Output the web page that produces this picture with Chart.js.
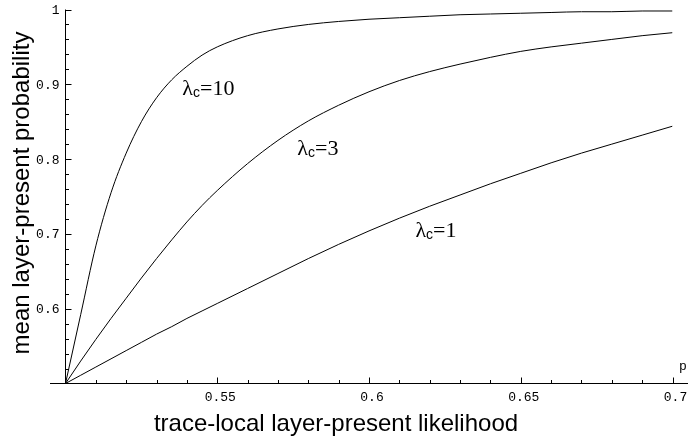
<!DOCTYPE html>
<html>
<head>
<meta charset="utf-8">
<script src="https://cdn.jsdelivr.net/npm/chart.js@4.4.1/dist/chart.umd.min.js"></script>
<style>
  html, body { margin: 0; padding: 0; background: #fff; }
  #plot { display: block; }
</style>
</head>
<body>
<canvas id="plot" width="690" height="448"></canvas>
<script>
/* ---------------- Data ---------------- */
const pValues = [0.5, 0.505, 0.51, 0.515, 0.52, 0.525, 0.53, 0.535, 0.54, 0.545, 0.55,
                 0.56, 0.57, 0.58, 0.59, 0.6, 0.61, 0.62, 0.63, 0.64, 0.65,
                 0.66, 0.67, 0.68, 0.69, 0.7];
const lambda10 = [0.5, 0.592, 0.684, 0.755, 0.808, 0.850, 0.882, 0.906, 0.924, 0.939, 0.950,
                  0.965, 0.974, 0.980, 0.984, 0.987, 0.989, 0.991, 0.993, 0.994, 0.995,
                  0.996, 0.997, 0.997, 0.998, 0.998];
const lambda3 = [0.5, 0.530, 0.559, 0.587, 0.614, 0.641, 0.667, 0.692, 0.716, 0.738, 0.758,
                 0.794, 0.825, 0.851, 0.872, 0.890, 0.905, 0.917, 0.927, 0.936, 0.944,
                 0.950, 0.955, 0.960, 0.965, 0.969];
const lambda1 = [0.5, 0.511, 0.522, 0.533, 0.544, 0.555, 0.566, 0.576, 0.587, 0.597, 0.607,
                 0.627, 0.647, 0.667, 0.686, 0.704, 0.721, 0.737, 0.752, 0.767, 0.781,
                 0.795, 0.808, 0.820, 0.832, 0.844];

const xMajorTicks = [0.55, 0.6, 0.65, 0.7];
const xTickLabels = ['0.55', '0.6', '0.65', '0.7'];
const xMinorTicks = [0.51, 0.52, 0.53, 0.54, 0.56, 0.57, 0.58, 0.59, 0.61, 0.62, 0.63, 0.64, 0.66, 0.67, 0.68, 0.69];
const yMajorTicks = [0.6, 0.7, 0.8, 0.9, 1];
const yTickLabels = ['0.6', '0.7', '0.8', '0.9', '1'];
const yMinorTicks = [0.52, 0.54, 0.56, 0.58, 0.62, 0.64, 0.66, 0.68, 0.72, 0.74, 0.76, 0.78,
                     0.82, 0.84, 0.86, 0.88, 0.92, 0.94, 0.96, 0.98];

const curveNames = ['10', '3', '1'];
const xTitle = 'trace-local layer-present likelihood';
const yTitle = 'mean layer-present probability';

// where each λc label sits (data coords: left edge, baseline)
const labelSpots = [
    { x: 0.5385, y: 0.886 },
    { x: 0.5764, y: 0.806 },
    { x: 0.6153, y: 0.696 }
];

/* ---------------- Axes drawn Mathematica-style ---------------- */
const axesPlugin = {
    id: 'mmaAxes',
    afterDraw(chart) {
        const ctx = chart.ctx;
        const xs = chart.scales.x, ys = chart.scales.y;
        const x0 = xs.getPixelForValue(0.5), y0 = ys.getPixelForValue(0.5);
        ctx.save();
        ctx.strokeStyle = '#000';
        ctx.fillStyle = '#000';
        ctx.lineWidth = 1;

        // axis lines
        ctx.beginPath();
        ctx.moveTo(50, y0); ctx.lineTo(688, y0);
        ctx.moveTo(x0, y0); ctx.lineTo(x0, ys.getPixelForValue(1));
        ctx.stroke();

        // ticks pointing into the plot
        ctx.beginPath();
        xMajorTicks.forEach(v => { const px = Math.round(xs.getPixelForValue(v)) + 0.5; ctx.moveTo(px, y0); ctx.lineTo(px, y0 - 6); });
        xMinorTicks.forEach(v => { const px = Math.round(xs.getPixelForValue(v)) + 0.5; ctx.moveTo(px, y0); ctx.lineTo(px, y0 - 3.5); });
        yMajorTicks.forEach(v => { const py = Math.round(ys.getPixelForValue(v)) + 0.5; ctx.moveTo(x0, py); ctx.lineTo(x0 + 6, py); });
        yMinorTicks.forEach(v => { const py = Math.round(ys.getPixelForValue(v)) + 0.5; ctx.moveTo(x0, py); ctx.lineTo(x0 + 3.5, py); });
        ctx.stroke();

        // tick labels
        ctx.font = '13px "Liberation Mono", "DejaVu Sans Mono", monospace';
        ctx.textAlign = 'center';
        ctx.textBaseline = 'middle';
        xMajorTicks.forEach((v, i) => ctx.fillText(xTickLabels[i], xs.getPixelForValue(v) + 3, y0 + 14));
        ctx.textAlign = 'right';
        yMajorTicks.forEach((v, i) => ctx.fillText(yTickLabels[i], x0 - 6, ys.getPixelForValue(v) + 1));
        ctx.textAlign = 'center';
        ctx.textBaseline = 'alphabetic';
        ctx.fillText('p', 683, y0 - 14);

        // axis titles
        ctx.font = '24px "Liberation Sans", Arial, sans-serif';
        ctx.textBaseline = 'middle';
        ctx.fillText(xTitle, 336, 424);
        ctx.save();
        ctx.translate(22, 193);
        ctx.rotate(-Math.PI / 2);
        ctx.fillText(yTitle, 0, 0);
        ctx.restore();

        // curve labels: λ + subscript c + "=n"
        ctx.textAlign = 'left';
        ctx.textBaseline = 'alphabetic';
        labelSpots.forEach((spot, i) => {
            let px = xs.getPixelForValue(spot.x);
            const py = ys.getPixelForValue(spot.y);
            ctx.font = '22px "Liberation Serif", "Times New Roman", serif';
            ctx.fillText('\u03bb', px, py);
            px += ctx.measureText('\u03bb').width;
            ctx.font = '14px "Liberation Sans", Arial, sans-serif';
            ctx.fillText('c', px, py + 2);
            px += ctx.measureText('c').width;
            ctx.font = '22px "Liberation Serif", "Times New Roman", serif';
            ctx.fillText('=' + curveNames[i], px, py);
        });
        ctx.restore();
    }
};

/* ---------------- Chart ---------------- */
const toPoints = (vals) => pValues.map((p, i) => ({ x: p, y: vals[i] }));
const curveStyle = {
    borderColor: '#000',
    borderWidth: 1,
    pointRadius: 0,
    fill: false,
    cubicInterpolationMode: 'monotone'
};

new Chart(document.getElementById('plot').getContext('2d'), {
    type: 'line',
    data: {
        datasets: [
            { label: curveNames[0], data: toPoints(lambda10), ...curveStyle },
            { label: curveNames[1], data: toPoints(lambda3), ...curveStyle },
            { label: curveNames[2], data: toPoints(lambda1), ...curveStyle }
        ]
    },
    options: {
        responsive: false,
        animation: false,
        events: [],
        layout: { padding: { left: 65.5, right: 17.5, top: 9.5, bottom: 64.5 } },
        scales: {
            x: { type: 'linear', min: 0.5, max: 0.7, display: false },
            y: { type: 'linear', min: 0.5, max: 1, display: false }
        },
        plugins: { legend: { display: false }, tooltip: { enabled: false } }
    },
    plugins: [axesPlugin]
});
</script>
</body>
</html>
